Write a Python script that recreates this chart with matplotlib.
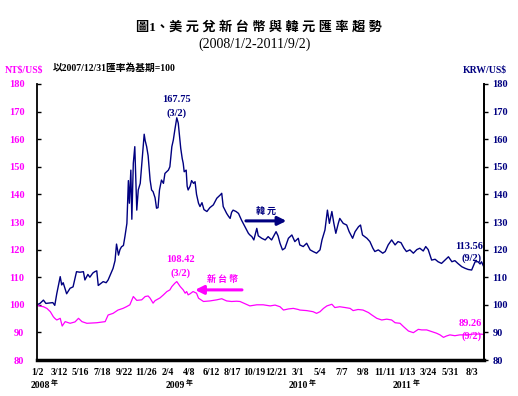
import matplotlib
matplotlib.use("Agg")
import matplotlib.pyplot as plt
from matplotlib.transforms import blended_transform_factory

# ---------------- data (trading-day index, index value; 2007/12/31 = 100) ----------------
krw_idx = [0, 6, 13, 18, 32, 36, 40, 47, 50, 53, 60, 67, 73, 80, 87, 94, 97, 103, 107, 113,
           117, 121, 124, 134, 140, 144, 150, 154, 158, 161, 165, 168, 171, 175, 178, 182,
           185, 187, 190, 192, 195, 198, 202, 205, 209, 214, 217, 219, 222, 225, 229, 232,
           235, 239, 242, 245, 248, 252, 256, 259, 266, 269, 273, 276, 279, 283, 286, 288,
           291, 294, 296, 298, 302, 304, 306, 310, 313, 317, 320, 323, 327, 330, 334, 338,
           344, 350, 357, 364, 371, 374, 377, 384, 388, 391, 394, 397, 403, 408, 414, 421,
           428, 431, 435, 439, 445, 448, 455, 462, 468, 475, 484, 488, 492, 497, 502, 509,
           516, 522, 529, 532, 539, 546, 553, 559, 566, 573, 577, 583, 588, 592, 597, 601,
           605, 610, 613, 620, 627, 632, 639, 644, 651, 655, 659, 668, 674, 680, 684, 691,
           700, 705, 711, 718, 725, 731, 737, 743, 748, 755, 762, 769, 775, 782, 787, 792,
           799, 806, 812, 819, 826, 833, 840, 846, 852, 860, 867, 873, 880, 887, 893, 897,
           900, 905]
krw_val = [100, 100.5, 101.7, 100.5, 100.8, 99.8, 104, 110.2, 107.2, 108, 104, 106, 106.5,
           112, 111.8, 112, 109, 111, 110, 111.5, 112, 112.3, 107, 108.4, 108, 109, 111.5,
           113.2, 116, 122, 118, 120, 121, 121.5, 124.7, 129.5, 145, 136.8, 148.8, 131, 151.3,
           157.3, 134.3, 141.6, 144, 155, 161.8, 159.5, 157.3, 154, 145.2, 141.6, 141, 138.8,
           135, 135.2, 141.6, 145.2, 144, 147.6, 148.8, 150, 157.3, 159.7, 163.3, 167.75,
           165.8, 162, 156.7, 153, 151.3, 148.2, 148.8, 143, 141.6, 143, 145, 144, 144.6,
           140, 136.8, 135.6, 137, 134.5, 133.8, 135.2, 136.2, 138.6, 139.8, 140.4, 135.6,
           133.1, 132, 131.3, 133.5, 134.3, 133.8, 133.1, 130.7, 128.3, 125.9, 125.3, 124.7,
           123.5, 127.7, 125, 124.1, 123.5, 124.7, 123.5, 126.5, 125, 122.3, 119.9, 120.5,
           124.1, 125.3, 122.9, 124.1, 121.7, 121.1, 122.3, 119.9, 119.3, 118.7, 119.9, 123.5,
           127.1, 134.3, 129.5, 133.8, 129.5, 125.9, 129.5, 131.3, 129.5, 128.9, 126.5, 124.1,
           126.5, 128.3, 128.9, 125.3, 124.1, 122.9, 120.5, 119.3, 119.9, 118.7, 119.3, 121.7,
           123.5, 121.7, 122.9, 122.5, 120.5, 119.3, 119.9, 118.7, 120, 120.5, 119.5, 121.1,
           120, 116.2, 116.5, 115.6, 115, 116.2, 117.4, 115.6, 116, 115, 113.8, 113.2, 112.8,
           112.6, 115.6, 115.6, 114.8, 115.6, 113.56]

ntd_idx = [0, 6, 13, 20, 27, 33, 36, 40, 47, 51, 57, 67, 77, 84, 91, 101, 121, 138, 144, 154,
           164, 174, 181, 188, 195, 202, 212, 219, 225, 229, 235, 239, 249, 256, 263, 269,
           273, 279, 283, 290, 296, 300, 303, 306, 310, 316, 323, 327, 337, 350, 364, 374,
           384, 394, 404, 411, 421, 431, 445, 458, 472, 482, 492, 499, 509, 519, 529, 532,
           546, 559, 566, 573, 580, 587, 597, 603, 613, 624, 634, 640, 650, 660, 671, 678,
           688, 698, 708, 718, 725, 735, 742, 752, 762, 772, 779, 789, 799, 809, 816, 823,
           829, 836, 846, 856, 870, 883, 897, 905]
ntd_val = [100, 99.5, 99.3, 98.7, 97.5, 95.7, 95.1, 94.5, 95.1, 92.3, 93.9, 93.3, 93.8, 95.1,
           93.9, 93.3, 93.5, 93.9, 96.3, 96.9, 98.1, 98.7, 99.3, 100, 103, 101.6, 101.8, 103,
           103.2, 102.4, 100.6, 101.5, 102.5, 103.6, 104.8, 105.4, 106.6, 107.8, 108.42,
           106.6, 105.4, 104.2, 104.8, 103.6, 104, 104.8, 104.2, 102.4, 101.2, 101.4, 101.8,
           102.2, 101.4, 101.2, 101.3, 101.2, 100.4, 99.6, 100, 100, 99.6, 99.9, 99.3, 98.1,
           98.5, 98.7, 98.3, 98.1, 97.9, 97.5, 96.9, 97.5, 98.7, 99.6, 100.2, 99, 99.3, 99,
           98.7, 97.9, 98.3, 98.1, 97.2, 96.3, 95.1, 94.5, 94.8, 94.5, 93.5, 93.3, 92.1, 90.5,
           89.9, 91.1, 90.9, 90.9, 90.3, 89.7, 89.1, 88.2, 88.7, 89.1, 88.8, 89.1, 89.1, 89.4,
           89.4, 89.26]

tick_pos = [0, 44, 88, 132, 176, 220, 264, 308, 352, 396, 440, 484, 528, 572, 616, 660,
            704, 748, 792, 836, 880]
tick_labels = ["1/2", "3/12", "5/16", "7/18", "9/22", "11/26", "2/4", "4/8", "6/12", "8/17",
               "10/19", "12/21", "3/1", "5/4", "7/7", "9/8", "11/11", "1/13", "3/24", "5/31",
               "8/3"]
years = ["2008", "2009", "2010", "2011"]
year_pos = [26, 300, 549, 759]
y_ticks = [80, 90, 100, 110, 120, 130, 140, 150, 160, 170, 180]

NAVY = "#000080"
MAG = "#FF00FF"
SERIF = ["Liberation Serif", "DejaVu Serif"]
CJK = ["Noto Sans CJK TC", "DejaVu Sans"]
MIX = ["Liberation Serif", "Noto Sans CJK TC"]

fig = plt.figure(figsize=(5.18, 3.96), dpi=100)
ax = fig.add_axes([37 / 518, 36 / 396, 447 / 518, 276 / 396])

ax.plot(krw_idx, krw_val, color=NAVY, lw=1.0)
ax.plot(ntd_idx, ntd_val, color=MAG, lw=0.9)

ax.set_xlim(0, 905)
ax.set_ylim(80, 180)
ax.set_yticks(y_ticks)
ax.set_yticklabels([str(v) for v in y_ticks], fontfamily=SERIF, fontweight="bold",
                   fontsize=7.5, color=MAG)
ax.tick_params(axis="y", direction="in", length=3, width=1, pad=9)
ax.set_xticks(tick_pos)
ax.set_xticklabels(tick_labels, fontfamily=SERIF, fontweight="bold", fontsize=7)
ax.tick_params(axis="x", length=0, pad=6)

ax.spines["top"].set_visible(False)
ax.spines["bottom"].set_linewidth(2.5)
ax.spines["left"].set_linewidth(1.3)
ax.spines["right"].set_linewidth(1.3)

ax2 = ax.twinx()
ax2.set_ylim(80, 180)
ax2.set_yticks(y_ticks)
ax2.set_yticklabels([str(v) for v in y_ticks], fontfamily=SERIF, fontweight="bold",
                    fontsize=7.5, color=NAVY)
ax2.tick_params(axis="y", direction="out", length=3, width=1, pad=3)
for s in ["top", "left", "bottom"]:
    ax2.spines[s].set_visible(False)
ax2.spines["right"].set_linewidth(1.3)

# year labels under the date ticks
trans = blended_transform_factory(ax.transData, fig.transFigure)
for yr, p in zip(years, year_pos):
    ax.text(p, 1 - 385 / 396, yr, transform=trans, ha="right", va="center",
            fontfamily=SERIF, fontweight="bold", fontsize=7)
    ax.text(p + 2, 1 - 382 / 396, "年", transform=trans, ha="left", va="center",
            fontfamily=CJK, fontweight="bold", fontsize=5)

# annotations
ann = dict(fontfamily=SERIF, fontweight="bold", fontsize=7.5, ha="center", va="center")
ax.text(283, 174.5, "167.75", color=NAVY, **ann)
ax.text(283, 169.6, "(3/2)", color=NAVY, **ann)
ax.text(291, 116.4, "108.42", color=MAG, **ann)
ax.text(291, 111.6, "(3/2)", color=MAG, **ann)
ax.text(875, 121.3, "113.56", color=NAVY, **ann)
ax.text(880, 116.8, "(9/2)", color=NAVY, **ann)
ax.text(877, 93.4, "89.26", color=MAG, **ann)
ax.text(879, 88.6, "(9/2)", color=MAG, **ann)

ax.text(464, 133.7, "韓 元", color=NAVY, fontfamily=CJK, fontweight="bold", fontsize=6.5,
        ha="center", va="center")
ax.annotate("", xy=(505, 130.4), xytext=(423, 130.4),
            arrowprops=dict(arrowstyle="-|>,head_length=0.5,head_width=0.25", color=NAVY,
                            lw=2.2, shrinkA=0, shrinkB=0))
ax.text(375, 109.0, "新 台 幣", color=MAG, fontfamily=CJK, fontweight="bold", fontsize=6.5,
        ha="center", va="center")
ax.annotate("", xy=(320, 105.4), xytext=(415, 105.4),
            arrowprops=dict(arrowstyle="-|>,head_length=0.5,head_width=0.25", color=MAG,
                            lw=2.2, shrinkA=0, shrinkB=0))

# titles and axis captions
fig.text(0.5, 1 - 27 / 396, "圖1、美 元 兌 新 台 幣 與 韓 元 匯 率 趨 勢", ha="center", va="center",
         fontfamily=MIX, fontweight="heavy", fontsize=9.5)
fig.text(255 / 518, 1 - 44 / 396, "(2008/1/2-2011/9/2)", ha="center", va="center",
         fontfamily=SERIF, fontsize=10)
fig.text(53 / 518, 1 - 68 / 396, "以2007/12/31匯率為基期=100", ha="left", va="center",
         fontfamily=MIX, fontweight="bold", fontsize=7)
fig.text(5 / 518, 1 - 70 / 396, r"NT\$/US\$", ha="left", va="center", color=MAG,
         fontfamily=SERIF, fontweight="bold", fontsize=7)
fig.text(507 / 518, 1 - 70 / 396, r"KRW/US\$", ha="right", va="center", color=NAVY,
         fontfamily=SERIF, fontweight="bold", fontsize=7)

fig.savefig("out.png", dpi=100)
